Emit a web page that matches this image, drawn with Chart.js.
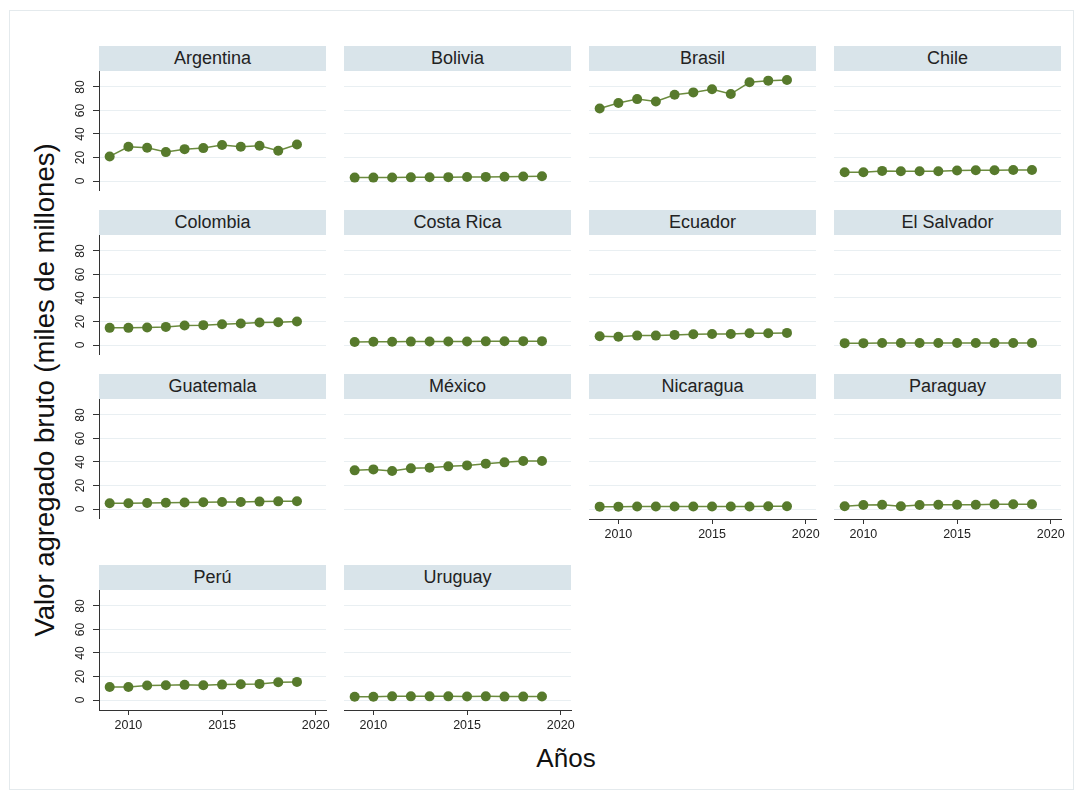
<!DOCTYPE html>
<html>
<head>
<meta charset="utf-8">
<script src="https://cdn.jsdelivr.net/npm/chart.js@4.4.0/dist/chart.umd.min.js"></script>
<style>
  body { margin: 0; background: #fff; width: 1083px; height: 793px; position: relative; overflow: hidden;
         font-family: "Liberation Sans", Arial, sans-serif; }
  .marco { position: absolute; left: 9px; top: 10px; width: 1063px; height: 778px; border: 1px solid #e4eaed; }
  .cab { position: absolute; height: 25px; line-height: 25px; background: #d9e4ea; text-align: center;
         font-size: 18px; color: #222; }
  canvas { position: absolute; }
  #tituloY { position: absolute; left: 45px; top: 390px; transform: translate(-50%, -50%) rotate(-90deg);
             font-size: 27.5px; white-space: nowrap; color: #111; }
  #tituloX { position: absolute; left: 566px; top: 758px; transform: translate(-50%, -50%);
             font-size: 26px; color: #111; }
</style>
</head>
<body>
<div class="marco"></div>
<div id="tituloY">Valor agregado bruto (miles de millones)</div>
<div id="tituloX">Años</div>

<script>
// DATOS (miles de millones)
const anios = [2009, 2010, 2011, 2012, 2013, 2014, 2015, 2016, 2017, 2018, 2019];
const ticksX = [2010, 2015, 2020];
const ticksY = [0, 20, 40, 60, 80];

const paises = ["Argentina", "Bolivia", "Brasil", "Chile", "Colombia", "Costa Rica", "Ecuador",
  "El Salvador", "Guatemala", "México", "Nicaragua", "Paraguay", "Perú", "Uruguay"];

const argentina  = [20.9, 29.1, 28.3, 24.6, 27.1, 28.0, 30.6, 29.1, 30.0, 25.7, 31.1];
const bolivia    = [2.9, 2.9, 3.0, 3.1, 3.2, 3.3, 3.4, 3.5, 3.7, 3.9, 4.0];
const brasil     = [61.7, 66.3, 69.7, 67.7, 73.4, 75.4, 78.0, 74.0, 84.0, 85.4, 86.0];
const chile      = [7.4, 7.4, 8.6, 8.3, 8.3, 8.3, 8.9, 9.1, 9.1, 9.4, 9.4];
const colombia   = [14.6, 14.6, 14.9, 15.4, 16.6, 16.9, 17.7, 18.3, 19.1, 19.4, 20.0];
const costaRica  = [2.6, 2.7, 2.8, 2.9, 3.0, 3.0, 3.0, 3.1, 3.2, 3.3, 3.3];
const ecuador    = [7.4, 7.1, 8.0, 8.0, 8.6, 9.1, 9.4, 9.4, 10.0, 10.0, 10.3];
const elSalvador = [1.6, 1.6, 1.7, 1.7, 1.7, 1.7, 1.7, 1.7, 1.7, 1.7, 1.7];
const guatemala  = [4.9, 4.9, 5.1, 5.4, 5.6, 5.7, 5.9, 6.0, 6.3, 6.5, 6.6];
const mexico     = [32.9, 33.7, 32.3, 34.6, 35.1, 36.3, 37.1, 38.6, 39.7, 40.9, 40.9];
const nicaragua  = [2.0, 2.0, 2.1, 2.1, 2.1, 2.1, 2.2, 2.2, 2.2, 2.3, 2.3];
const paraguay   = [2.3, 3.4, 3.7, 2.3, 3.4, 3.7, 3.7, 3.7, 4.0, 4.0, 4.0];
const peru       = [11.1, 11.1, 12.3, 12.6, 12.9, 12.6, 13.1, 13.4, 13.7, 15.1, 15.4];
const uruguay    = [2.8, 2.8, 3.1, 3.1, 3.1, 3.1, 3.0, 3.1, 2.9, 2.9, 3.0];

const series = [argentina, bolivia, brasil, chile, colombia, costaRica, ecuador,
  elSalvador, guatemala, mexico, nicaragua, paraguay, peru, uruguay];

// --- GEOMETRIA DE LA CUADRICULA ---
const colIzq = [99, 344, 589, 834];
const filaTop = [71, 235, 399, 590];
const anchoPlot = 227;
const altoPlot = 120;
const conEjeX = [10, 11, 12, 13]; // paneles con eje de años

// etiquetas del eje Y giradas (estilo Stata)
const etiquetasY = {
  id: 'etiquetasY',
  afterDraw(chart, args, opts) {
    if (!opts.mostrar) return;
    const ctx = chart.ctx;
    const y = chart.scales.y;
    ctx.save();
    ctx.font = '12px "Liberation Sans", Arial, sans-serif';
    ctx.fillStyle = '#222';
    ctx.textAlign = 'center';
    ctx.textBaseline = 'middle';
    y.ticks.forEach(t => {
      ctx.save();
      ctx.translate(y.right - 18, y.getPixelForValue(t.value));
      ctx.rotate(-Math.PI / 2);
      ctx.fillText(String(t.value), 0, 0);
      ctx.restore();
    });
    ctx.restore();
  }
};

function crearPanel(i) {
  const fila = Math.floor(i / 4), col = i % 4;
  const ejeY = col === 0;
  const ejeX = conEjeX.includes(i);
  const anchoY = ejeY ? 40 : 0;
  const altoX = ejeX ? 35 : 0;
  const padDer = ejeX ? 10 : 0;

  // cabecera del panel
  const cab = document.createElement('div');
  cab.className = 'cab';
  cab.style.left = colIzq[col] + 'px';
  cab.style.top = (filaTop[fila] - 25) + 'px';
  cab.style.width = anchoPlot + 'px';
  cab.textContent = paises[i];
  document.body.appendChild(cab);

  const canvas = document.createElement('canvas');
  canvas.width = anchoY + anchoPlot + padDer;
  canvas.height = altoPlot + altoX;
  canvas.style.left = (colIzq[col] - anchoY) + 'px';
  canvas.style.top = filaTop[fila] + 'px';
  document.body.appendChild(canvas);

  new Chart(canvas, {
    type: 'line',
    data: {
      datasets: [{
        data: anios.map((a, k) => ({ x: a, y: series[i][k] })),
        borderColor: '#6b8b3e',
        borderWidth: 1.5,
        backgroundColor: '#577a2c',
        pointBackgroundColor: '#577a2c',
        pointBorderWidth: 0,
        pointRadius: 5,
        tension: 0,
        clip: false
      }]
    },
    options: {
      responsive: false,
      animation: false,
      events: [],
      layout: { autoPadding: false, padding: { right: padDer } },
      plugins: {
        legend: { display: false },
        tooltip: { enabled: false },
        etiquetasY: { mostrar: ejeY }
      },
      scales: {
        x: {
          type: 'linear',
          display: ejeX,
          min: 2008.43,
          max: 2020.55,
          afterBuildTicks: s => { s.ticks = ticksX.map(v => ({ value: v })); },
          afterFit: s => { s.height = altoX; },
          grid: { display: true, drawOnChartArea: false, drawTicks: true, tickLength: 5, tickColor: '#333' },
          border: { display: true, color: '#333', width: 1 },
          ticks: {
            color: '#222', padding: 3,
            font: { size: 12.5, family: '"Liberation Sans", Arial, sans-serif' },
            maxRotation: 0, minRotation: 0,
            callback: v => String(v)
          }
        },
        y: {
          min: -8.5,
          max: 93.6,
          afterBuildTicks: s => { s.ticks = ticksY.map(v => ({ value: v })); },
          afterFit: s => { s.width = anchoY; },
          grid: { color: '#e9eff2', lineWidth: 1, drawTicks: ejeY, tickLength: 6, tickColor: '#333' },
          border: { display: ejeY, color: '#333', width: 1 },
          ticks: { display: false }
        }
      }
    },
    plugins: [etiquetasY]
  });
}

paises.forEach((p, i) => crearPanel(i));
</script>
</body>
</html>
